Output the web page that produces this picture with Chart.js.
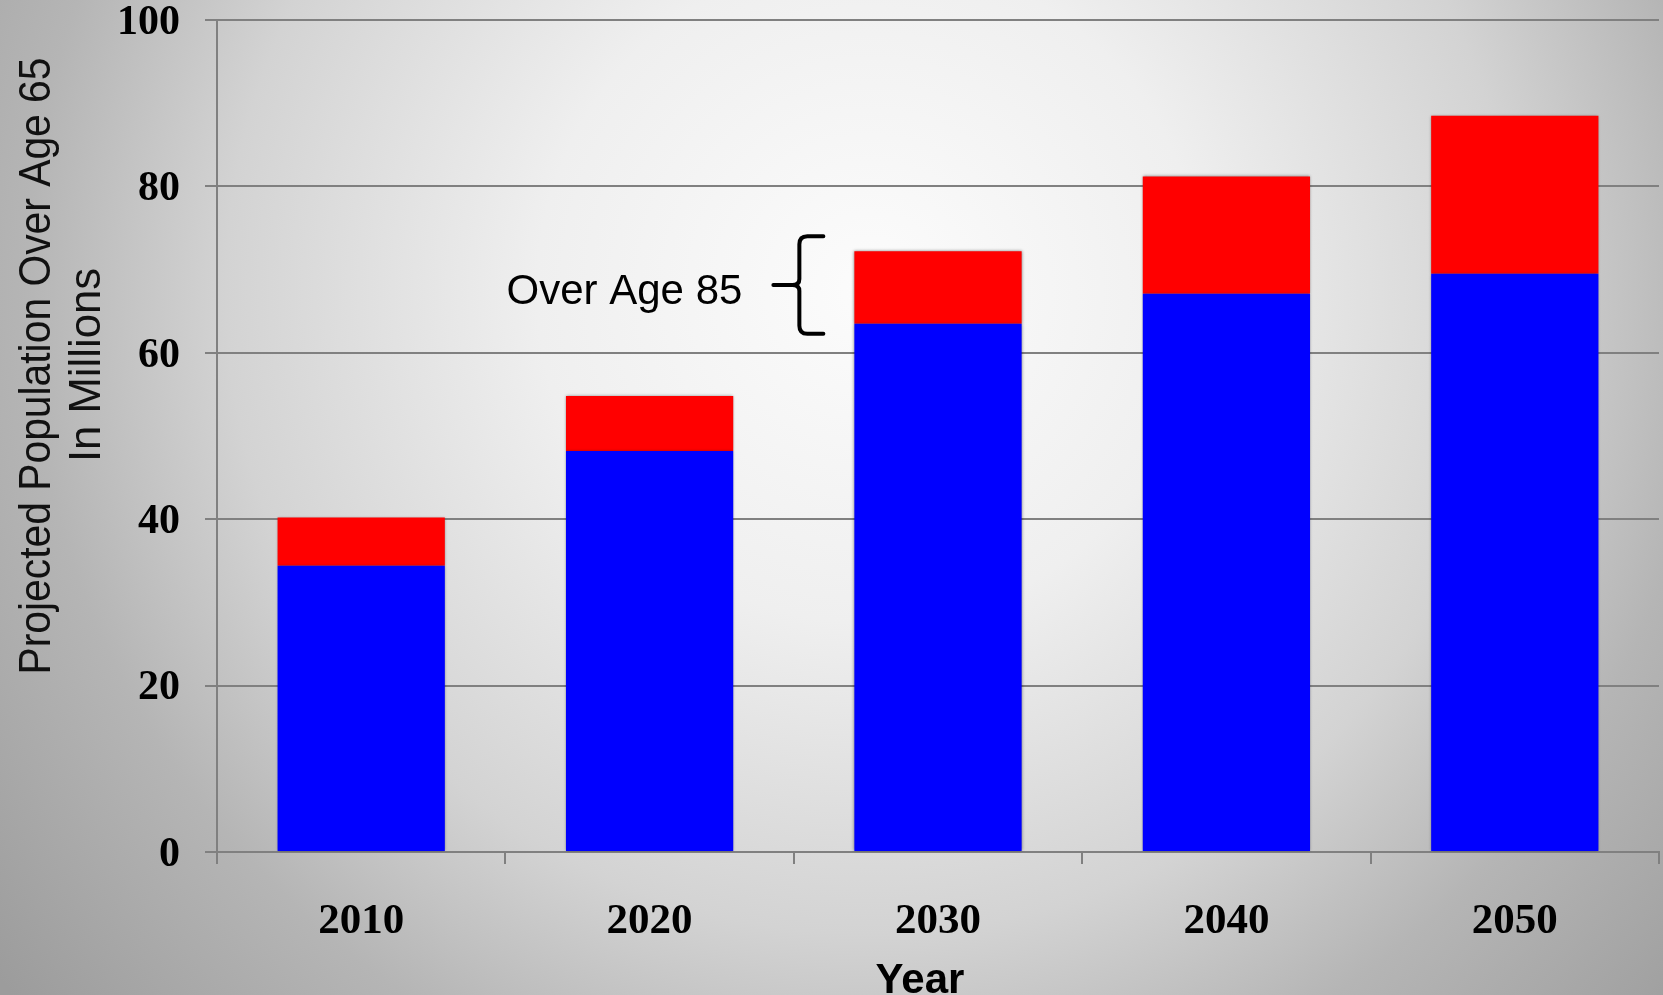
<!DOCTYPE html>
<html>
<head>
<meta charset="utf-8">
<script src="https://cdn.jsdelivr.net/npm/chart.js"></script>
<style>
  body { margin: 0; background: #b0b0b0; }
  #grafico { display: block; }
</style>
</head>
<body>
<canvas id="grafico" width="1663" height="995"></canvas>
<script>
// Datos: población proyectada (millones)
const anios = ["2010", "2020", "2030", "2040", "2050"];
const edad65a84 = [34.4, 48.2, 63.5, 67.1, 69.5];
const edad85mas = [5.8, 6.6, 8.7, 14.1, 19.0];
const marcasY = [0, 20, 40, 60, 80, 100];

const tituloY = ["Projected Population Over Age 65", "In Millions"];
const tituloX = "Year";
const textoNota = "Over Age 85";
const indiceNota = 2; // la llave va junto a la barra de 2030

const gris = "#808080";
const fuenteSerif = '"Liberation Serif", "Times New Roman", serif';
const fuenteSans = '"Liberation Sans", Arial, sans-serif';

// Fondo degradado de toda la lámina
const fondo = {
    id: "fondo",
    beforeDraw(chart) {
        const { ctx, width, height } = chart;
        const g = ctx.createRadialGradient(870, 290, 0, 870, 290, 1110);
        g.addColorStop(0, "#fcfcfc");
        g.addColorStop(0.3, "#efefef");
        g.addColorStop(0.58, "#d3d3d3");
        g.addColorStop(0.76, "#b5b5b5");
        g.addColorStop(1, "#9c9c9c");
        ctx.save();
        ctx.fillStyle = g;
        ctx.fillRect(0, 0, width, height);
        ctx.restore();
    }
};

// Sombra suave alrededor de las barras
const sombra = {
    id: "sombra",
    beforeDatasetsDraw(chart) {
        chart.ctx.save();
        chart.ctx.shadowColor = "rgba(0,0,0,0.45)";
        chart.ctx.shadowBlur = 3;
    },
    afterDatasetsDraw(chart) {
        chart.ctx.restore();
    }
};

// Títulos de ejes y la llave "Over Age 85"
const textos = {
    id: "textos",
    afterDraw(chart) {
        const { ctx, scales } = chart;
        ctx.save();
        ctx.fillStyle = "#111";

        // título Y en dos líneas, letra estrecha
        const lineas = [
            { texto: tituloY[0], x: 50, y: 366, largo: 617 },
            { texto: tituloY[1], x: 100, y: 365, largo: 194 }
        ];
        ctx.font = "44px " + fuenteSans;
        ctx.textAlign = "center";
        ctx.textBaseline = "alphabetic";
        lineas.forEach(l => {
            const w = ctx.measureText(l.texto).width;
            ctx.save();
            ctx.translate(l.x, l.y);
            ctx.rotate(-Math.PI / 2);
            ctx.scale(l.largo / w, 1);
            ctx.fillText(l.texto, 0, 0);
            ctx.restore();
        });

        // título X
        ctx.font = "bold 42px " + fuenteSans;
        ctx.fillStyle = "#000";
        ctx.fillText(tituloX, 920, 993);

        // llave junto al segmento rojo
        const barra = chart.getDatasetMeta(1).data[indiceNota];
        const izq = barra.x - barra.width / 2;
        const arriba = scales.y.getPixelForValue(edad65a84[indiceNota] + edad85mas[indiceNota]) - 15;
        const abajo = scales.y.getPixelForValue(edad65a84[indiceNota]) + 10;
        const medio = (arriba + abajo) / 2;
        const xr = izq - 31, xv = izq - 55, xt = izq - 81, r = 8;

        ctx.strokeStyle = "#000";
        ctx.lineWidth = 4;
        ctx.lineCap = "round";
        ctx.lineJoin = "round";
        ctx.beginPath();
        ctx.moveTo(xr, arriba);
        ctx.lineTo(xv + r, arriba);
        ctx.quadraticCurveTo(xv, arriba, xv, arriba + r);
        ctx.lineTo(xv, medio - 6);
        ctx.quadraticCurveTo(xv, medio, xv - 7, medio);
        ctx.lineTo(xt, medio);
        ctx.moveTo(xv - 7, medio);
        ctx.quadraticCurveTo(xv, medio, xv, medio + 6);
        ctx.lineTo(xv, abajo - r);
        ctx.quadraticCurveTo(xv, abajo, xv + r, abajo);
        ctx.lineTo(xr, abajo);
        ctx.stroke();

        ctx.font = "42px " + fuenteSans;
        ctx.fillStyle = "#000";
        ctx.textAlign = "right";
        ctx.fillText(textoNota, xt - 31, medio + 19);
        ctx.restore();
    }
};

function crearDatos() {
    return {
        labels: anios,
        datasets: [
            {
                label: "Age 65-84",
                data: edad65a84,
                backgroundColor: "#0000ff",
                barPercentage: 0.58,
                categoryPercentage: 1
            },
            {
                label: "Over Age 85",
                data: edad85mas,
                backgroundColor: "#ff0000",
                barPercentage: 0.58,
                categoryPercentage: 1
            }
        ]
    };
}

const config = {
    type: "bar",
    data: crearDatos(),
    options: {
        responsive: false,
        animation: false,
        layout: { padding: { top: 20, right: 4, left: 0, bottom: 0 } },
        plugins: {
            legend: { display: false },
            tooltip: { enabled: false }
        },
        scales: {
            x: {
                stacked: true,
                grid: {
                    offset: true,
                    drawOnChartArea: false,
                    tickLength: 12,
                    color: gris,
                    lineWidth: 2
                },
                border: { color: gris, width: 2 },
                ticks: {
                    color: "#000",
                    padding: 32,
                    font: { family: fuenteSerif, size: 43, weight: "bold" }
                },
                afterFit(scale) {
                    scale.height = 143;
                    scale.paddingLeft = 0;
                    scale.paddingRight = 0;
                }
            },
            y: {
                stacked: true,
                min: marcasY[0],
                max: marcasY[marcasY.length - 1],
                afterBuildTicks(scale) {
                    scale.ticks = marcasY.map(v => ({ value: v }));
                },
                grid: {
                    tickLength: 12,
                    color: gris,
                    lineWidth: 2
                },
                border: { color: gris, width: 2 },
                ticks: {
                    color: "#000",
                    padding: 25,
                    labelOffset: 3,
                    font: { family: fuenteSerif, size: 42, weight: "bold" }
                },
                afterFit(scale) {
                    scale.width = 217;
                    scale.paddingTop = 0;
                    scale.paddingBottom = 0;
                }
            }
        }
    },
    plugins: [fondo, sombra, textos]
};

const canvas = document.querySelector("#grafico");
const miGrafico = new Chart(canvas, config);
</script>
</body>
</html>
